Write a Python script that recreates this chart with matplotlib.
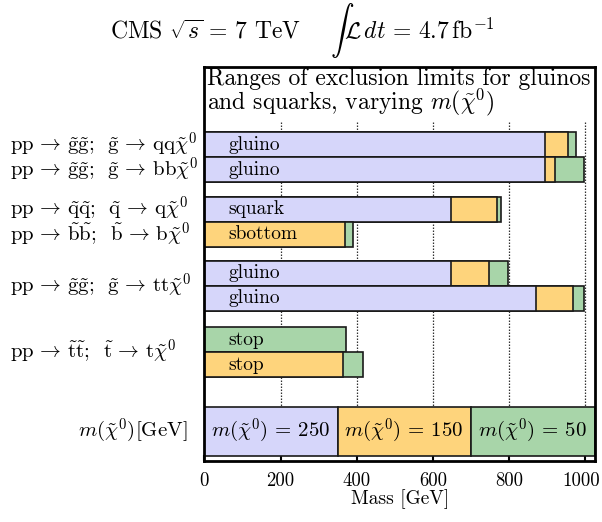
import matplotlib.pyplot as plt
import matplotlib.transforms as mtransforms

plt.rcParams['mathtext.fontset'] = 'cm'
plt.rcParams['font.family'] = 'cmr10'
plt.rcParams['axes.formatter.use_mathtext'] = True

# exclusion limits (GeV) per row, for m(chi0) = 250, 150, 50
bar_names = ['gluino', 'gluino', 'squark', 'sbottom', 'gluino', 'gluino', 'stop', 'stop']
row_pos = [3.1, 4.1, 5.68, 6.68, 8.24, 9.24, 10.9, 11.9]
lim_250 = [895, 893, 648, None, 648, 870, None, None]
lim_150 = [954, 919, 767, 370, 746, 968, None, 365]
lim_50 = [974, 997, 779, 390, 797, 995, 372, 416]

arr = r'\,\rightarrow\,'
proc_labels = [
    r'$\mathrm{pp}' + arr + r'\tilde{\mathrm{g}}\tilde{\mathrm{g}};\;\;\tilde{\mathrm{g}}' + arr + r'\mathrm{qq}\tilde{\chi}^0$',
    r'$\mathrm{pp}' + arr + r'\tilde{\mathrm{g}}\tilde{\mathrm{g}};\;\;\tilde{\mathrm{g}}' + arr + r'\mathrm{bb}\tilde{\chi}^0$',
    r'$\mathrm{pp}' + arr + r'\tilde{\mathrm{q}}\tilde{\mathrm{q}};\;\;\tilde{\mathrm{q}}' + arr + r'\mathrm{q}\tilde{\chi}^0$',
    r'$\mathrm{pp}' + arr + r'\tilde{\mathrm{b}}\tilde{\mathrm{b}};\;\;\tilde{\mathrm{b}}' + arr + r'\mathrm{b}\tilde{\chi}^0$',
    r'$\mathrm{pp}' + arr + r'\tilde{\mathrm{g}}\tilde{\mathrm{g}};\;\;\tilde{\mathrm{g}}' + arr + r'\mathrm{tt}\tilde{\chi}^0$',
    r'$\mathrm{pp}' + arr + r'\tilde{\mathrm{t}}\tilde{\mathrm{t}};\;\;\tilde{\mathrm{t}}' + arr + r'\mathrm{t}\tilde{\chi}^0$',
]
proc_pos = [3.1, 4.1, 5.68, 6.68, 8.74, 11.4]

# legend strip
mchi = [250, 150, 50]
strip_edges = [0, 350, 700, 1025]
strip_pos = 14.56

xticks = [0, 200, 400, 600, 800, 1000]

col = {250: '#d6d6fa', 150: '#fed47c', 50: '#a8d5a9'}
edge = '#1a1a1a'

fig = plt.figure(figsize=(6.02, 5.22), dpi=100)
ax = fig.add_axes([204.3 / 602, 1 - 460.5 / 522, 390.7 / 602, 393.2 / 522])

ax.set_xlim(0, 1025)
ax.set_ylim(15.73, 0)

# dotted grid
ax.vlines(xticks[1:], 2.18, 13.58, colors='#333333', linestyles=(0, (1.2, 1.2)),
          linewidth=0.9, zorder=0)

for i in range(len(row_pos)):
    for m, vals in [(50, lim_50), (150, lim_150), (250, lim_250)]:
        if vals[i] is not None:
            ax.barh(row_pos[i], vals[i], height=1.0, left=0, color=col[m],
                    edgecolor=edge, linewidth=1.2, zorder=2)
    ax.text(64, row_pos[i], bar_names[i], fontsize=14, va='center', ha='left', zorder=3)

for j, m in enumerate(mchi):
    ax.barh(strip_pos, strip_edges[j + 1] - strip_edges[j], height=1.96,
            left=strip_edges[j], color=col[m], edgecolor=edge, linewidth=1.2, zorder=2)
    ax.text(strip_edges[j] + 17, strip_pos, r'$m(\tilde{\chi}^0)\,=\,%d$' % m,
            fontsize=15, va='center', ha='left', zorder=3)

# text box inside the axes
btrans = mtransforms.blended_transform_factory(ax.transAxes, ax.transData)
ax.text(0.006, 0.70, 'Ranges of exclusion limits for gluinos', fontsize=17,
        transform=btrans, va='baseline', ha='left')
ax.text(0.006, 1.67, r'and squarks, varying $m(\tilde{\chi}^0)$', fontsize=17,
        transform=btrans, va='baseline', ha='left')

# labels on the left
trans = mtransforms.blended_transform_factory(fig.transFigure, ax.transData)
for lab, y in zip(proc_labels, proc_pos):
    fig.text(10 / 602, y, lab, fontsize=15, va='center', ha='left', transform=trans)
fig.text(187 / 602, strip_pos, r'$m(\tilde{\chi}^0)[\mathrm{GeV}]$', fontsize=15,
         va='center', ha='right', transform=trans)

ax.set_yticks([])
ax.set_xticks(xticks)
ax.set_xticklabels([str(t) for t in xticks], fontsize=13.5)
ax.tick_params(axis='x', direction='in', length=4, width=1.5, pad=8)
# last label sits a little left so it stays inside the figure
last = ax.get_xticklabels()[-1]
last.set_transform(last.get_transform() +
                   mtransforms.ScaledTranslation(-4 / 100, 0, fig.dpi_scale_trans))
ax.set_xlabel('Mass [GeV]', fontsize=14, labelpad=0)
for s in ax.spines.values():
    s.set_linewidth(2)

fig.text(0.503, 1 - 30 / 522,
         r'CMS $\sqrt{s}\,=\,7$ TeV    $\int\mathcal{L}\,dt\,=\,4.7\,\mathrm{fb}^{-1}$',
         fontsize=17, ha='center', va='center')

plt.savefig('out.png', dpi=100)
